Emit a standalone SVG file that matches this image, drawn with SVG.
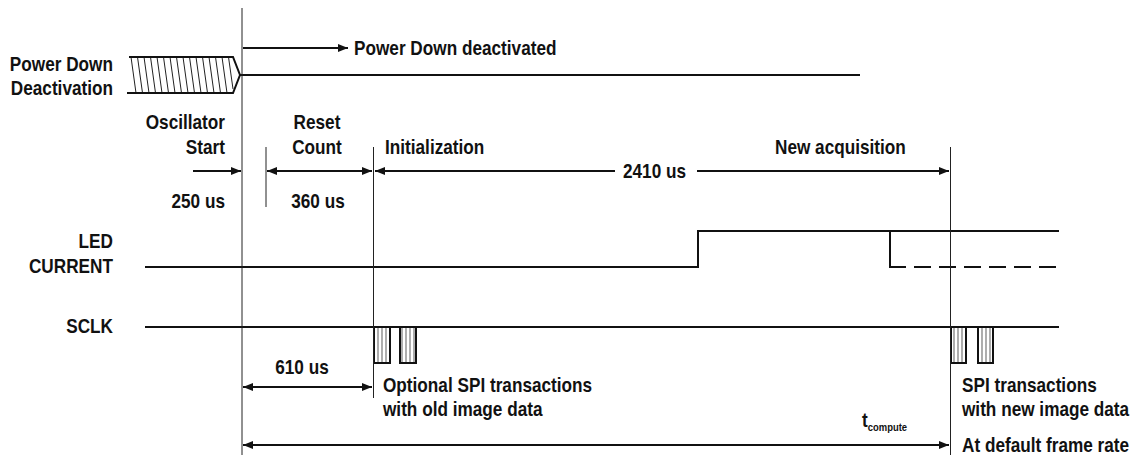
<svg xmlns="http://www.w3.org/2000/svg" width="1144" height="459" viewBox="0 0 1144 459">
<defs>
<style>
text{font-family:"Liberation Sans",Arial,sans-serif;font-weight:bold;font-size:20px;fill:#111}
.e{text-anchor:end}.m{text-anchor:middle}
.sig{stroke:#111;stroke-width:2;fill:none}
.vl{stroke:#222;stroke-width:1;fill:none}
.ar{stroke:#111;stroke-width:2;fill:none}
.h{stroke:#222;stroke-width:1}
</style>
<marker id="ah" viewBox="0 0 10 8" refX="10" refY="4" markerWidth="10" markerHeight="8" markerUnits="userSpaceOnUse" orient="auto-start-reverse">
<path d="M0,0L10,4L0,8z" fill="#111"/>
</marker>
<pattern id="pg" width="4" height="10" patternUnits="userSpaceOnUse">
<rect width="4" height="10" fill="#fff"/>
<line x1="2" y1="0" x2="2" y2="10" stroke="#777" stroke-width="1.2"/>
</pattern>
</defs>

<g id="labels">
<text class="e" transform="translate(113,71) scale(.86,1)">Power Down</text>
<text class="e" transform="translate(113,95) scale(.86,1)">Deactivation</text>
<text class="e" transform="translate(113,248) scale(.86,1)">LED</text>
<text class="e" transform="translate(113,273) scale(.86,1)">CURRENT</text>
<text class="e" transform="translate(113,333) scale(.86,1)">SCLK</text>
</g>

<g id="powerdown">
<path class="h" d="M131,57L136,93M137.5,57L142.5,93M144,57L149,93M150.5,57L155.5,93M157,57L162,93M163.5,57L168.5,93M170,57L175,93M176.5,57L181.5,93M183,57L188,93M189.5,57L194.5,93M196,57L201,93M202.5,57L207.5,93M209,57L214,93M215.5,57L220.5,93M222,57L227,93M228.5,57L233,89"/>
<path class="sig" d="M129,57H233L240,75L233,93H127"/>
<path class="sig" d="M240,75H860"/>
</g>

<g id="led">
<path class="sig" d="M145,267H698V231H1059"/>
<path class="sig" d="M890,231V267H906"/>
<path class="sig" d="M906,267H1059" stroke-dasharray="17,8" stroke-dashoffset="-8"/>
</g>

<g id="sclk">
<path class="sig" d="M145,327H1059"/>
<rect x="374" y="327" width="16" height="36" fill="url(#pg)" stroke="#111" stroke-width="2"/>
<rect x="400" y="327" width="16" height="36" fill="url(#pg)" stroke="#111" stroke-width="2"/>
<rect x="951" y="327" width="15" height="36" fill="url(#pg)" stroke="#111" stroke-width="2"/>
<rect x="978" y="327" width="15" height="36" fill="url(#pg)" stroke="#111" stroke-width="2"/>
</g>

<g id="connectors">
<path class="vl" d="M242,8V455"/>
<path class="vl" d="M266,147V207"/>
<path class="vl" stroke="#555" d="M373.5,147V398"/>
<path class="vl" d="M950.5,147V455"/>
<path class="ar" d="M243,48H348" marker-end="url(#ah)"/>
<path class="ar" d="M193,171H241" marker-end="url(#ah)"/>
<path class="ar" d="M267,171H372" marker-start="url(#ah)" marker-end="url(#ah)"/>
<path class="ar" d="M375,171H615" marker-start="url(#ah)"/>
<path class="ar" d="M697,171H949" marker-end="url(#ah)"/>
<path class="ar" d="M243,387H372" marker-start="url(#ah)" marker-end="url(#ah)"/>
<path class="ar" d="M243,445H949" marker-start="url(#ah)" marker-end="url(#ah)"/>
</g>

<g id="texts">
<text transform="translate(354,55) scale(.86,1)">Power Down deactivated</text>
<text class="e" transform="translate(225,129) scale(.86,1)">Oscillator</text>
<text class="e" transform="translate(225,154) scale(.86,1)">Start</text>
<text class="e" transform="translate(225,208) scale(.86,1)">250 us</text>
<text class="m" transform="translate(317,129) scale(.86,1)">Reset</text>
<text class="m" transform="translate(317,154) scale(.86,1)">Count</text>
<text class="m" transform="translate(318,208) scale(.86,1)">360 us</text>
<text transform="translate(385,154) scale(.86,1)">Initialization</text>
<text transform="translate(623,178) scale(.86,1)">2410 us</text>
<text transform="translate(775,154) scale(.86,1)">New acquisition</text>
<text class="m" transform="translate(302,374) scale(.86,1)">610 us</text>
<text transform="translate(383,392) scale(.86,1)">Optional SPI transactions</text>
<text transform="translate(383,416) scale(.86,1)">with old image data</text>
<text transform="translate(962,392) scale(.86,1)">SPI transactions</text>
<text transform="translate(962,416) scale(.86,1)">with new image data</text>
<text transform="translate(862,427) scale(.86,1)">t<tspan font-size="11" dy="4">compute</tspan></text>
<text transform="translate(962,452) scale(.86,1)">At default frame rate</text>
</g>
</svg>
